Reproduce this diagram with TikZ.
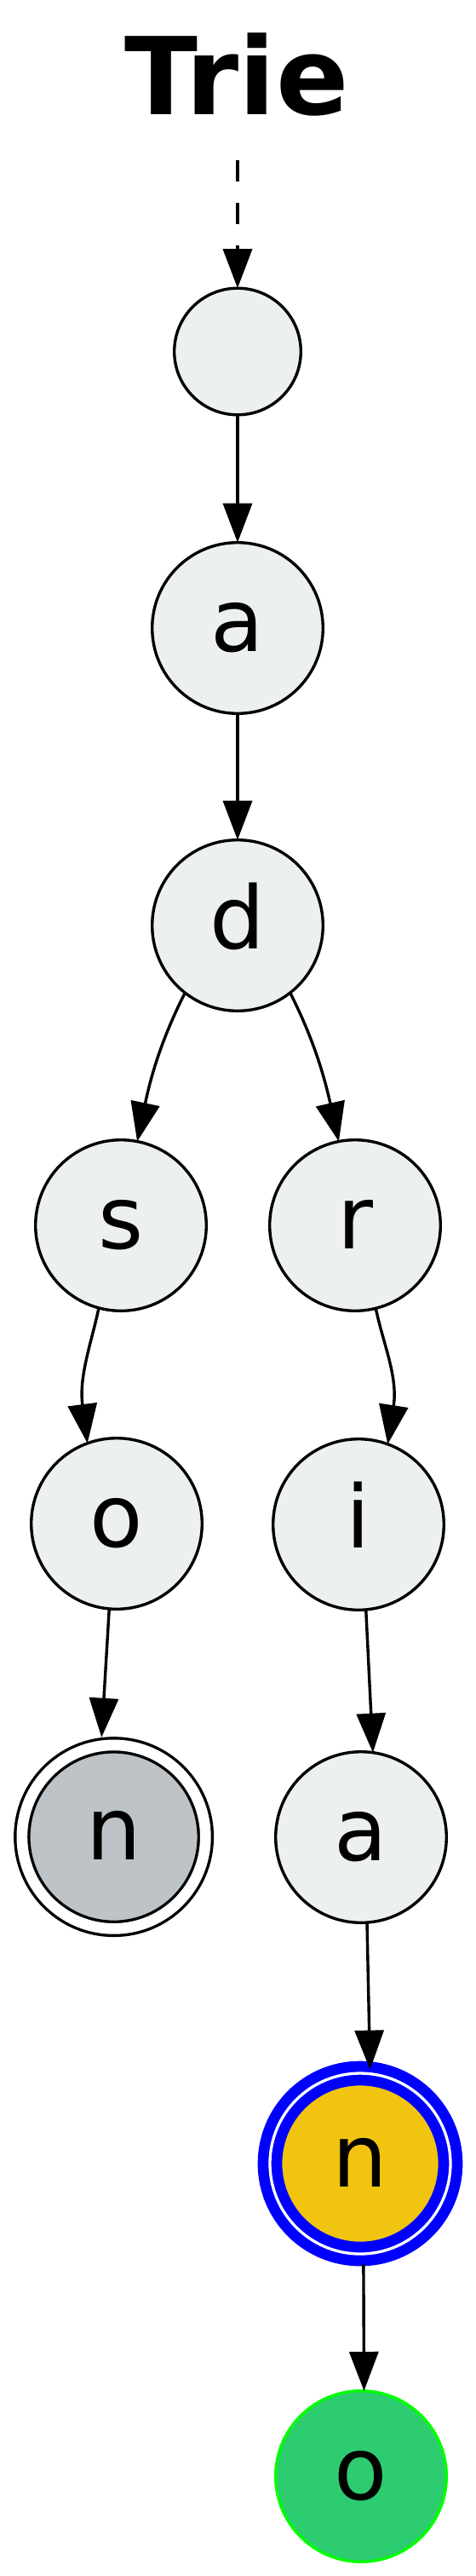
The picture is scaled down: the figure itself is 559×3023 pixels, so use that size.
\documentclass[tikz,border=0pt]{standalone}
\usepackage{fontspec}
\setmainfont{DejaVu Sans}
\usetikzlibrary{arrows.meta}
\definecolor{clouds}{HTML}{ECF0F1}
\definecolor{silver}{HTML}{BDC3C7}
\definecolor{sunflower}{HTML}{F1C40F}
\definecolor{emerald}{HTML}{2ECC71}
\definecolor{limegreen}{HTML}{00FF00}
\definecolor{pureblue}{HTML}{0000FF}
\begin{document}
\begin{tikzpicture}[x=1pt,y=-1pt,
  trienode/.style={circle, draw=black, line width=3.4pt, fill=clouds,
    minimum size=200.6pt, inner sep=0pt, outer sep=0pt,
    font=\fontsize{102}{110}\selectfont, text height=54pt, text depth=0pt},
  edge/.style={draw=black, line width=3.4pt, -{Triangle[length=46pt,width=34pt]}},
  titlestyle/.style={anchor=base, inner sep=0pt, font=\fontsize{126}{130}\selectfont\bfseries}
]
\fill[white] (0,0) rectangle (559,3023);
\useasboundingbox (0,0) rectangle (559,3023);
\node[titlestyle] (title) at (278,134.3) {Trie};
\coordinate (tbot) at (279,188);
\node[trienode, minimum size=148.6pt] (root) at (279,412.5) {};
\node[trienode] (a1) at (279,737) {a};
\node[trienode] (d) at (279,1086) {d};
\node[trienode] (s) at (142,1438) {s};
\node[trienode] (r) at (417,1438) {r};
\node[trienode] (o1) at (137,1788) {o};
\node[trienode] (i) at (421,1789) {i};
\node[trienode, fill=silver, double=white, double distance=12.7pt, minimum size=215.5pt, outer sep=10pt] (n1) at (133.6,2155.6) {n};
\node[trienode] (a2) at (424,2156) {a};
\node[trienode, fill=sunflower, draw=pureblue, line width=12.7pt, double=white, double distance=3.3pt, minimum size=212pt, outer sep=5pt] (n2) at (423,2539) {n};
\node[trienode, fill=emerald, draw=limegreen] (o2) at (424,2906) {o};
\draw[edge, dash pattern=on 25pt off 25pt] (tbot) -- (root);
\draw[edge] (root) -- (a1);
\draw[edge] (a1) -- (d);
\draw[edge] (d.232) .. controls (189,1221) and (177,1264) .. (s.79);
\draw[edge] (d.308) .. controls (369,1221) and (381,1264) .. (r.101);
\draw[edge] (s.255) .. controls (107,1577) and (92.5,1615) .. (o1.110);
\draw[edge] (r.284) .. controls (450,1577) and (467.5,1615.5) .. (i.70);
\draw[edge] (o1.265) -- (n1.97);
\draw[edge] (i.275) -- (a2.82);
\draw[edge] (a2.274) -- (n2.84);
\draw[edge, shorten <=7pt] (n2.272) -- (o2.88);
\end{tikzpicture}
\end{document}
